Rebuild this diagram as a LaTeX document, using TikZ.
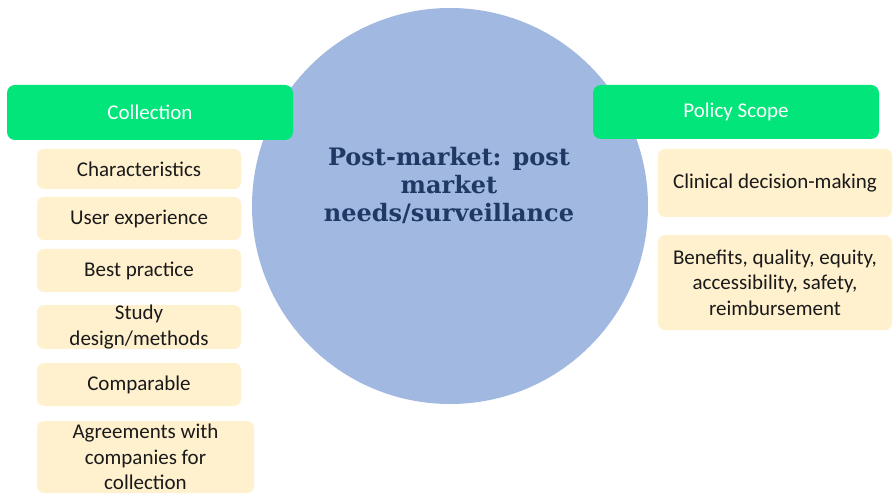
\documentclass[tikz,border=0pt]{standalone}
\usepackage{fontspec}
\setmainfont{Carlito}
\newfontfamily\titlefont{DejaVu Serif}
\definecolor{hgreen}{HTML}{02E57A}
\definecolor{pyellow}{HTML}{FFF0CE}
\definecolor{cblue}{HTML}{A1B8E1}
\definecolor{navy}{HTML}{1F3864}
\definecolor{txt}{HTML}{1A1A1A}
\tikzset{
  header/.style={fill=hgreen, rounded corners=8pt, text=white, font=\fontsize{21}{25}\selectfont, inner sep=0pt, align=center},
  item/.style={fill=pyellow, rounded corners=7pt, text=txt, font=\fontsize{21}{25.5}\selectfont, inner sep=0pt, align=center},
}
\begin{document}
\begin{tikzpicture}[x=1pt,y=-1pt]
\useasboundingbox (0,0) rectangle (894,494);
\fill[white] (0,0) rectangle (894,494);
\node[circle, fill=cblue, minimum size=396pt, inner sep=0pt] (hub) at (450,206) {};
\node[text=navy, font=\titlefont\bfseries\fontsize{24}{28}\selectfont, align=center] (title) at (449,185) {Post-market: post\\market\\needs/surveillance};
% headers
\node[header, minimum width=286pt, minimum height=55pt] (coll) at (150,112.5) {Collection};
\node[header, minimum width=286pt, minimum height=54pt] (pol) at (736,112) {Policy Scope};
% left items
\node[item, minimum width=204pt, minimum height=40pt] (c1) at (139,169) {Characteristics};
\node[item, minimum width=204pt, minimum height=43pt] (c2) at (139,218.5) {User experience};
\node[item, minimum width=204pt, minimum height=43pt] (c3) at (139,270.5) {Best practice};
\node[item, minimum width=204pt, minimum height=42pt] (c4) at (139,327) {Study\\design/methods};
\node[item, minimum width=204pt, minimum height=43pt] (c5) at (139,384.5) {Comparable};
\node[item, minimum width=217pt, minimum height=72pt] (c6) at (145.5,457) {Agreements with\\companies for\\collection};
% right items
\node[item, minimum width=234pt, minimum height=68pt] (p1) at (775,183) {Clinical decision-making};
\node[item, minimum width=234pt, minimum height=95pt] (p2) at (775,282.5) {Benefits, quality, equity,\\accessibility, safety,\\reimbursement};
\end{tikzpicture}
\end{document}
